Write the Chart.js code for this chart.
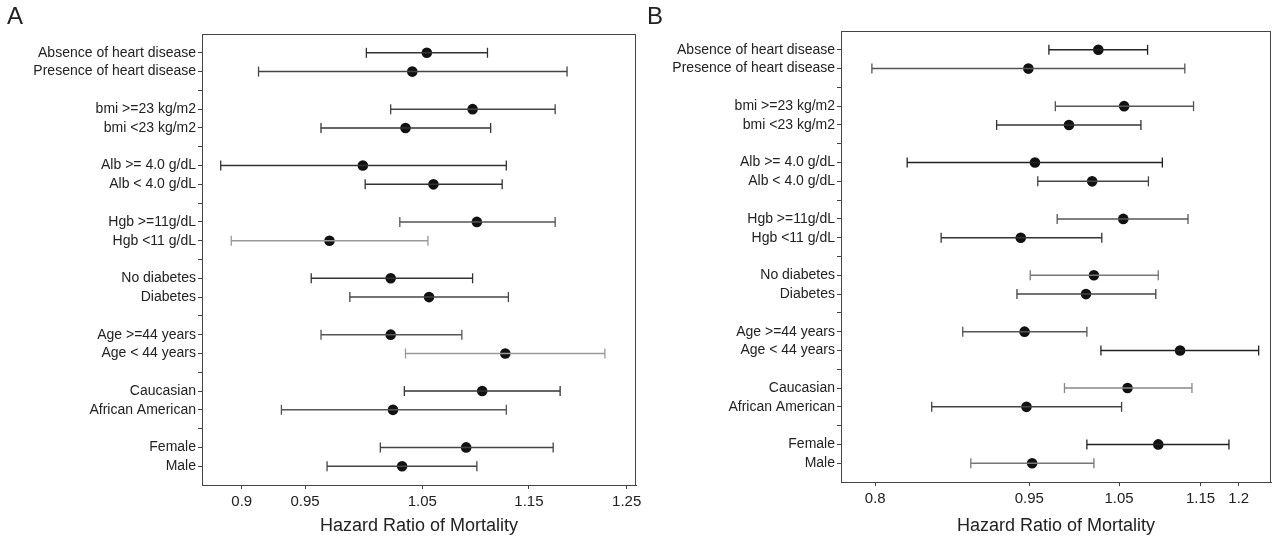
<!DOCTYPE html>
<html>
<head>
<meta charset="utf-8">
<script src="https://cdn.jsdelivr.net/npm/chart.js@4.4.1/dist/chart.umd.min.js"></script>
<style>
  html, body { margin: 0; padding: 0; background: #fff; overflow: hidden; }
  #wrap { position: relative; width: 1272px; height: 537px; overflow: hidden; }
  .panel { position: absolute; top: 0; height: 537px; }
  #boxA { left: 0; width: 660px; }
  #boxB { left: 640px; width: 640px; }
  .tag { position: absolute; top: 2px; font-family: 'Liberation Sans', Arial, sans-serif; font-size: 24px; color: #222; }
</style>
</head>
<body>
<div id="wrap">
  <div class="panel" id="boxA"><canvas id="chartA"></canvas></div>
  <div class="panel" id="boxB"><canvas id="chartB"></canvas></div>
  <div class="tag" style="left:7px">A</div>
  <div class="tag" style="left:647px">B</div>
</div>
<script>
// subgroups, top to bottom (pairs)
const rowLabels = [
  'Absence of heart disease', 'Presence of heart disease',
  'bmi >=23 kg/m2', 'bmi <23 kg/m2',
  'Alb >= 4.0 g/dL', 'Alb < 4.0 g/dL',
  'Hgb >=11g/dL', 'Hgb <11 g/dL',
  'No diabetes', 'Diabetes',
  'Age >=44 years', 'Age < 44 years',
  'Caucasian', 'African American',
  'Female', 'Male',
];

// panel A hazard ratios with 95% CI
const hrA = [1.054, 1.041, 1.096, 1.035, 0.998, 1.060, 1.100, 0.970, 1.022, 1.056, 1.022, 1.127, 1.105, 1.024, 1.090, 1.032];
const loA = [1.001, 0.913, 1.022, 0.963, 0.884, 1.000, 1.030, 0.892, 0.955, 0.987, 0.963, 1.035, 1.034, 0.931, 1.013, 0.968];
const hiA = [1.110, 1.188, 1.176, 1.113, 1.128, 1.124, 1.176, 1.055, 1.096, 1.130, 1.086, 1.227, 1.181, 1.128, 1.174, 1.100];
const ticksA = [0.9, 0.95, 1.05, 1.15, 1.25];

// panel B hazard ratios with 95% CI
const hrB = [1.026, 0.949, 1.056, 0.993, 0.956, 1.019, 1.055, 0.941, 1.021, 1.012, 0.945, 1.124, 1.060, 0.947, 1.097, 0.953];
const loB = [0.971, 0.797, 0.978, 0.916, 0.829, 0.959, 0.980, 0.861, 0.951, 0.937, 0.882, 1.029, 0.988, 0.852, 1.013, 0.890];
const hiB = [1.084, 1.130, 1.141, 1.076, 1.102, 1.085, 1.134, 1.030, 1.097, 1.094, 1.013, 1.227, 1.139, 1.053, 1.187, 1.021];
const ticksB = [0.8, 0.95, 1.05, 1.15, 1.2];

// line shade of each whisker
const shadeA = ['#333', '#444', '#444', '#333', '#333', '#333', '#555', '#999', '#333', '#444', '#555', '#999', '#333', '#555', '#444', '#444'];
const shadeB = ['#222', '#555', '#555', '#333', '#222', '#444', '#555', '#333', '#777', '#444', '#555', '#222', '#888', '#444', '#222', '#777'];

const FONT = "'Liberation Sans', Arial, sans-serif";
const INK = '#444';

// each pair of rows is followed by an empty slot
const slotOf = i => i + Math.floor(i / 2);
const slotLabels = {};
rowLabels.forEach((name, i) => { slotLabels[slotOf(i)] = name; });
const lastSlot = slotOf(rowLabels.length - 1);

const frame = {
  id: 'frame',
  afterDraw(chart) {
    const { ctx, chartArea: a } = chart;
    ctx.save();
    ctx.strokeStyle = INK;
    ctx.lineWidth = 1;
    ctx.strokeRect(a.left + 0.5, a.top + 0.5, a.right - a.left - 1, a.bottom - a.top);
    ctx.restore();
  },
};

function forestChart(id, hr, lo, hi, ticks, shade, range, box) {
  const whiskers = [];
  lo.forEach((v, i) => {
    whiskers.push({ x: v, y: slotOf(i) });
    whiskers.push({ x: hi[i], y: slotOf(i) });
  });
  const dots = hr.map((v, i) => ({ x: v, y: slotOf(i) }));

  return new Chart(document.getElementById(id), {
    type: 'scatter',
    data: {
      datasets: [
        {
          data: whiskers,
          showLine: true,
          borderWidth: 1.5,
          segment: {
            borderColor: c => (c.p0DataIndex % 2 ? 'rgba(0,0,0,0)' : shade[c.p0DataIndex >> 1]),
          },
          pointStyle: 'line',
          rotation: 90,
          pointRadius: 5,
          pointBorderWidth: 1.3,
          pointBorderColor: whiskers.map((p, j) => shade[j >> 1]),
        },
        {
          data: dots,
          pointStyle: 'circle',
          pointRadius: 5.3,
          backgroundColor: '#111',
          borderColor: '#111',
          borderWidth: 0,
        },
      ],
    },
    options: {
      responsive: false,
      animation: false,
      events: [],
      layout: { padding: { top: box.top, right: box.right, left: 0, bottom: 0 } },
      plugins: { legend: { display: false }, tooltip: { enabled: false } },
      scales: {
        x: {
          type: 'logarithmic',
          min: range[0],
          max: range[1],
          afterBuildTicks: s => { s.ticks = ticks.map(v => ({ value: v })); },
          afterFit: s => { s.height = box.axis; },
          ticks: {
            callback: v => String(v),
            font: { family: FONT, size: 15 },
            color: '#222',
            padding: 4,
            maxRotation: 0,
            autoSkip: false,
          },
          grid: { drawOnChartArea: false, drawTicks: true, tickLength: 4, color: INK },
          border: { color: INK },
          title: {
            display: true,
            text: 'Hazard Ratio of Mortality',
            font: { family: FONT, size: 18 },
            color: '#222',
            padding: { top: 0, bottom: 0 },
          },
        },
        y: {
          type: 'linear',
          reverse: true,
          min: -1,
          max: lastSlot + 1,
          afterBuildTicks: s => {
            const t = [];
            for (let k = 0; k <= lastSlot; k++) t.push({ value: k });
            s.ticks = t;
          },
          afterFit: s => { s.width = box.left; },
          ticks: {
            callback: v => slotLabels[v] || '',
            font: { family: FONT, size: 14 },
            color: '#222',
            padding: 2,
            autoSkip: false,
          },
          grid: { drawOnChartArea: false, drawTicks: true, tickLength: 4, color: INK },
          border: { color: INK },
        },
      },
    },
    plugins: [frame],
  });
}

function sizeCanvas(id, w, h) {
  const c = document.getElementById(id);
  c.width = w; c.height = h;
  c.style.width = w + 'px'; c.style.height = h + 'px';
}

sizeCanvas('chartA', 660, 537);
sizeCanvas('chartB', 640, 537);

forestChart('chartA', hrA, loA, hiA, ticksA, shadeA, [0.87, 1.26], { top: 34, right: 24, left: 202, axis: 52 });
forestChart('chartB', hrB, loB, hiB, ticksB, shadeB, [0.77, 1.244], { top: 31, right: 9, left: 201, axis: 55 });
</script>
</body>
</html>
